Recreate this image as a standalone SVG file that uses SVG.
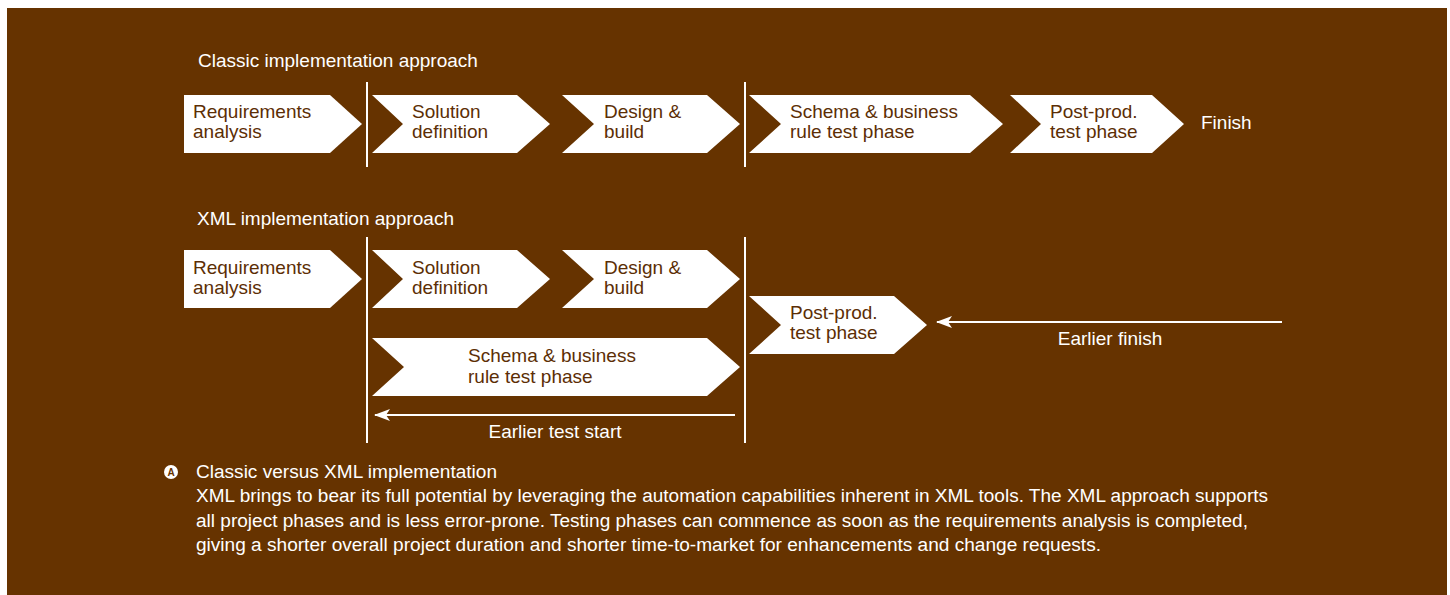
<svg xmlns="http://www.w3.org/2000/svg" width="1450" height="595" viewBox="0 0 1450 595">
  <defs>
    <style>
      .bg { fill: #663300; }
      .step { fill: #ffffff; }
      .in { font-family: "Liberation Sans", Arial, sans-serif; font-size: 19px; fill: #5c2e05; }
      .lbl { font-family: "Liberation Sans", Arial, sans-serif; font-size: 19px; fill: #ffffff; }
      .body { font-family: "Liberation Sans", Arial, sans-serif; font-size: 18px; fill: #ffffff; }
      .sep { stroke: #ffffff; stroke-width: 2; fill: none; }
      .arr { stroke: #ffffff; stroke-width: 2; fill: none; marker-end: url(#head); }
    </style>
    <marker id="head" viewBox="0 0 16 12" refX="15" refY="6" markerWidth="16" markerHeight="12" markerUnits="userSpaceOnUse" orient="auto">
      <path d="M0,0 L16,6 L0,12 L4,6 Z" fill="#ffffff"/>
    </marker>
  </defs>

  <rect x="0" y="0" width="1450" height="595" fill="#ffffff"/>
  <rect class="bg" x="7" y="8" width="1440" height="587"/>

  <text class="lbl" x="198" y="67">Classic implementation approach</text>
  <text class="lbl" x="197" y="225">XML implementation approach</text>

  <g id="connectors">
    <line class="sep" x1="367" y1="82" x2="367" y2="167"/>
    <line class="sep" x1="745" y1="82" x2="745" y2="167"/>
    <line class="sep" x1="367" y1="237" x2="367" y2="443"/>
    <line class="sep" x1="745" y1="237" x2="745" y2="443"/>
    <line class="arr" x1="735" y1="415" x2="375" y2="415"/>
    <line class="arr" x1="1282" y1="322" x2="937" y2="322"/>
  </g>

  <!-- Classic row -->
  <g id="c-req">
    <polygon class="step" points="184,95 330,95 362,124 330,153 184,153"/>
    <text class="in" x="193" y="118">Requirements</text>
    <text class="in" x="193" y="138">analysis</text>
  </g>
  <g id="c-sol">
    <polygon class="step" points="372,95 517,95 550,124 517,153 372,153 403,124"/>
    <text class="in" x="412" y="118">Solution</text>
    <text class="in" x="412" y="138">definition</text>
  </g>
  <g id="c-des">
    <polygon class="step" points="562,95 707,95 740,124 707,153 562,153 594,124"/>
    <text class="in" x="604" y="118">Design &amp;</text>
    <text class="in" x="604" y="138">build</text>
  </g>
  <g id="c-schema">
    <polygon class="step" points="749,95 970,95 1003,124 970,153 749,153 781,124"/>
    <text class="in" x="790" y="118">Schema &amp; business</text>
    <text class="in" x="790" y="138">rule test phase</text>
  </g>
  <g id="c-post">
    <polygon class="step" points="1010,95 1152,95 1184,124 1152,153 1010,153 1041,124"/>
    <text class="in" x="1050" y="118">Post-prod.</text>
    <text class="in" x="1050" y="138">test phase</text>
  </g>
  <g id="c-finish">
    <text class="lbl" x="1201" y="129">Finish</text>
  </g>

  <!-- XML row -->
  <g id="x-req">
    <polygon class="step" points="184,250 330,250 362,279 330,308 184,308"/>
    <text class="in" x="193" y="274">Requirements</text>
    <text class="in" x="193" y="294">analysis</text>
  </g>
  <g id="x-sol">
    <polygon class="step" points="372,250 517,250 550,279 517,308 372,308 403,279"/>
    <text class="in" x="412" y="274">Solution</text>
    <text class="in" x="412" y="294">definition</text>
  </g>
  <g id="x-des">
    <polygon class="step" points="562,250 707,250 740,279 707,308 562,308 594,279"/>
    <text class="in" x="604" y="274">Design &amp;</text>
    <text class="in" x="604" y="294">build</text>
  </g>
  <g id="x-schema">
    <polygon class="step" points="372,338 707,338 740,367 707,396 372,396 404,367"/>
    <text class="in" x="468" y="362">Schema &amp; business</text>
    <text class="in" x="468" y="383">rule test phase</text>
  </g>
  <g id="x-post">
    <polygon class="step" points="749,296 894,296 927,325 894,354 749,354 781,325"/>
    <text class="in" x="790" y="319">Post-prod.</text>
    <text class="in" x="790" y="339">test phase</text>
  </g>
  <g id="lbl-test">
    <text class="lbl" x="555" y="438" text-anchor="middle">Earlier test start</text>
  </g>
  <g id="lbl-finish">
    <text class="lbl" x="1110" y="345" text-anchor="middle">Earlier finish</text>
  </g>

  <!-- Caption -->
  <g id="caption">
    <circle cx="171" cy="472" r="7" fill="#ffffff"/>
    <text x="171" y="476" text-anchor="middle" font-family="Liberation Sans, Arial, sans-serif" font-size="10" font-weight="bold" fill="#663300">A</text>
    <text class="body" x="196" y="478" textLength="301" lengthAdjust="spacingAndGlyphs">Classic versus XML implementation</text>
    <text class="body" x="196" y="502" textLength="1072" lengthAdjust="spacingAndGlyphs">XML brings to bear its full potential by leveraging the automation capabilities inherent in XML tools. The XML approach supports</text>
    <text class="body" x="196" y="527" textLength="1052" lengthAdjust="spacingAndGlyphs">all project phases and is less error-prone. Testing phases can commence as soon as the requirements analysis is completed,</text>
    <text class="body" x="196" y="551" textLength="905" lengthAdjust="spacingAndGlyphs">giving a shorter overall project duration and shorter time-to-market for enhancements and change requests.</text>
  </g>
</svg>
